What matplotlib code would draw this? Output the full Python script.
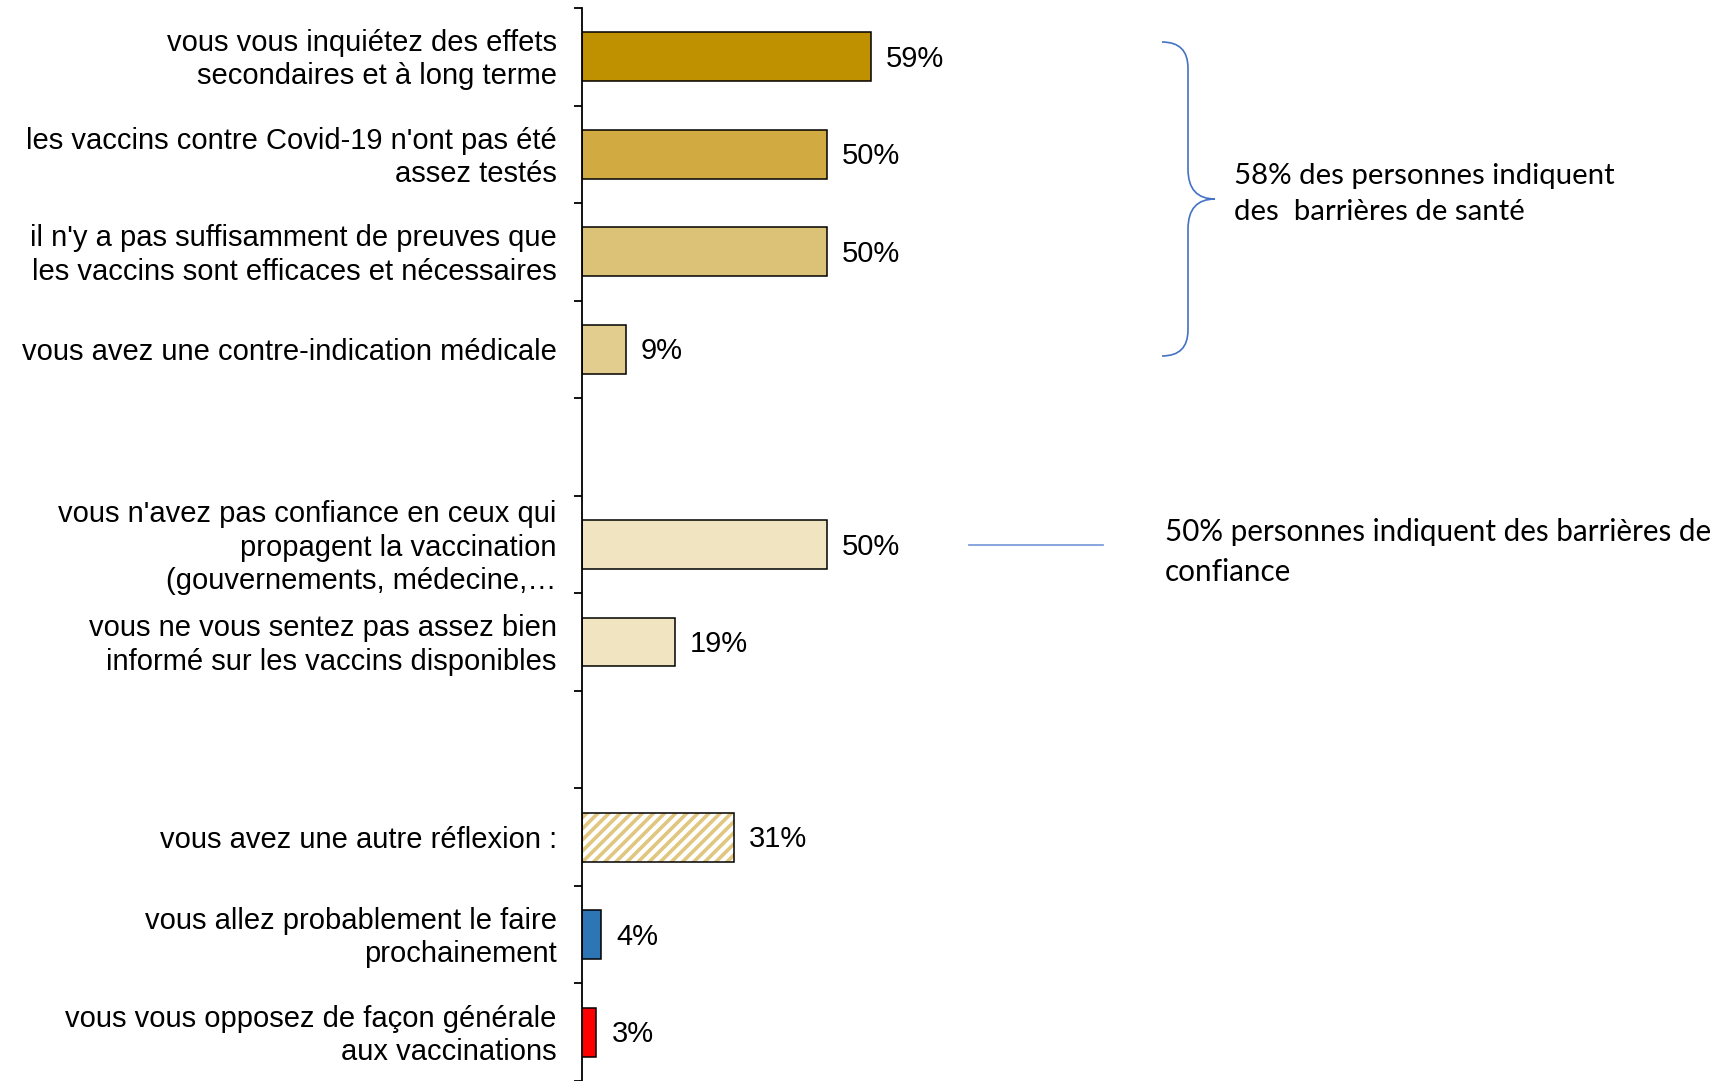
import matplotlib
matplotlib.use("Agg")
import matplotlib.pyplot as plt
import matplotlib.transforms as mtransforms
from matplotlib.path import Path
from matplotlib.patches import PathPatch

# data (blank strings = empty separator rows)
labels = [
    "vous vous inquiétez des effets\nsecondaires et à long terme",
    "les vaccins contre Covid-19 n'ont pas été\nassez testés",
    "il n'y a pas suffisamment de preuves que\nles vaccins sont efficaces et nécessaires",
    "vous avez une contre-indication médicale",
    "",
    "vous n'avez pas confiance en ceux qui\npropagent la vaccination\n(gouvernements, médecine,…",
    "vous ne vous sentez pas assez bien\ninformé sur les vaccins disponibles",
    "",
    "vous avez une autre réflexion :",
    "vous allez probablement le faire\nprochainement",
    "vous vous opposez de façon générale\naux vaccinations",
]
values = [59, 50, 50, 9, None, 50, 19, None, 31, 4, 3]
colors = ["#BF9000", "#D1AB41", "#DBC276", "#E2CD8F", None,
          "#F1E4C1", "#F1E4C1", None, "#E1C67F", "#2E75B6", "#FF0000"]
hatched = [False, False, False, False, False, False, False, False, True, False, False]

note_health = "58% des personnes indiquent\ndes  barrières de santé"
note_trust = "50% personnes indiquent des barrières de\nconfiance"

plt.rcParams["hatch.linewidth"] = 2.6

W, H = 1727, 1081
fig = plt.figure(figsize=(W / 100, H / 100), dpi=100)
ax = fig.add_axes([581.7 / W, 0, 1 - 581.7 / W, 1 - 8 / H])

px_per_pct = 4.9
ax.set_xlim(0, (W - 581.7) / px_per_pct)
ax.set_ylim(len(labels) - 0.5, -0.5)

for i, v in enumerate(values):
    if v is None:
        continue
    if hatched[i]:
        ax.barh(i, v, height=0.5, color="white", edgecolor=colors[i],
                hatch="///", linewidth=0)
        ax.barh(i, v, height=0.5, fill=False, edgecolor="black", linewidth=1.1)
    else:
        ax.barh(i, v, height=0.5, color=colors[i], edgecolor="black", linewidth=1.1)
    ax.annotate(f"{v}%", (v, i), xytext=(11, -1.5), textcoords="offset points",
                ha="left", va="center", fontsize=21, family="Liberation Sans")

for s in ["top", "right", "bottom"]:
    ax.spines[s].set_visible(False)
ax.spines["left"].set_linewidth(1.3)
ax.set_xticks([])
ax.set_yticks([])
ax.set_yticks([i - 0.5 for i in range(len(labels) + 1)], minor=True)
ax.tick_params(axis="y", which="minor", length=6, width=1.3)

# category labels, right-aligned left of the axis
lab_tr = ax.get_yaxis_transform() + mtransforms.ScaledTranslation(
    -25 / 100, -3 / 100, fig.dpi_scale_trans)
for i, lab in enumerate(labels):
    ax.text(0, i, lab, transform=lab_tr, ha="right", va="center",
            fontsize=21, family="Liberation Sans", linespacing=1.24)

# brace for the health group (figure pixel coords, y from top)
def fy(y):
    return H - y

x0, xs, xt = 1162, 1188, 1215
y0, ym, y1 = 42, 199, 356
verts = [(x0, fy(y0)), (xs, fy(y0)), (xs, fy(y0 + 26)), (xs, fy(y0 + 26)),
         (xs, fy(ym - 30)), (xs, fy(ym - 30)), (xs, fy(ym)), (xt, fy(ym)),
         (xs, fy(ym)), (xs, fy(ym + 30)), (xs, fy(ym + 30)),
         (xs, fy(y1 - 26)), (xs, fy(y1 - 26)), (xs, fy(y1)), (x0, fy(y1))]
codes = [Path.MOVETO, Path.CURVE3, Path.CURVE3, Path.LINETO,
         Path.LINETO, Path.LINETO, Path.CURVE3, Path.CURVE3,
         Path.CURVE3, Path.CURVE3, Path.LINETO,
         Path.LINETO, Path.LINETO, Path.CURVE3, Path.CURVE3]
brace = PathPatch(Path(verts, codes), fill=False, edgecolor="#4472C4",
                  linewidth=1.2, transform=None)
fig.patches.append(brace)

fig.add_artist(plt.Line2D([969 / W, 1103 / W], [fy(545) / H, fy(545) / H],
                          color="#7F9FDB", linewidth=1.3))

fig.text(1234 / W, fy(194) / H, note_health, fontsize=21.2, family="Lato",
         ha="left", va="center", linespacing=1.5)
fig.text(1165 / W, fy(552) / H, note_trust, fontsize=21.3, family="Lato",
         ha="left", va="center", linespacing=1.48)

fig.savefig("out.png", dpi=100)
